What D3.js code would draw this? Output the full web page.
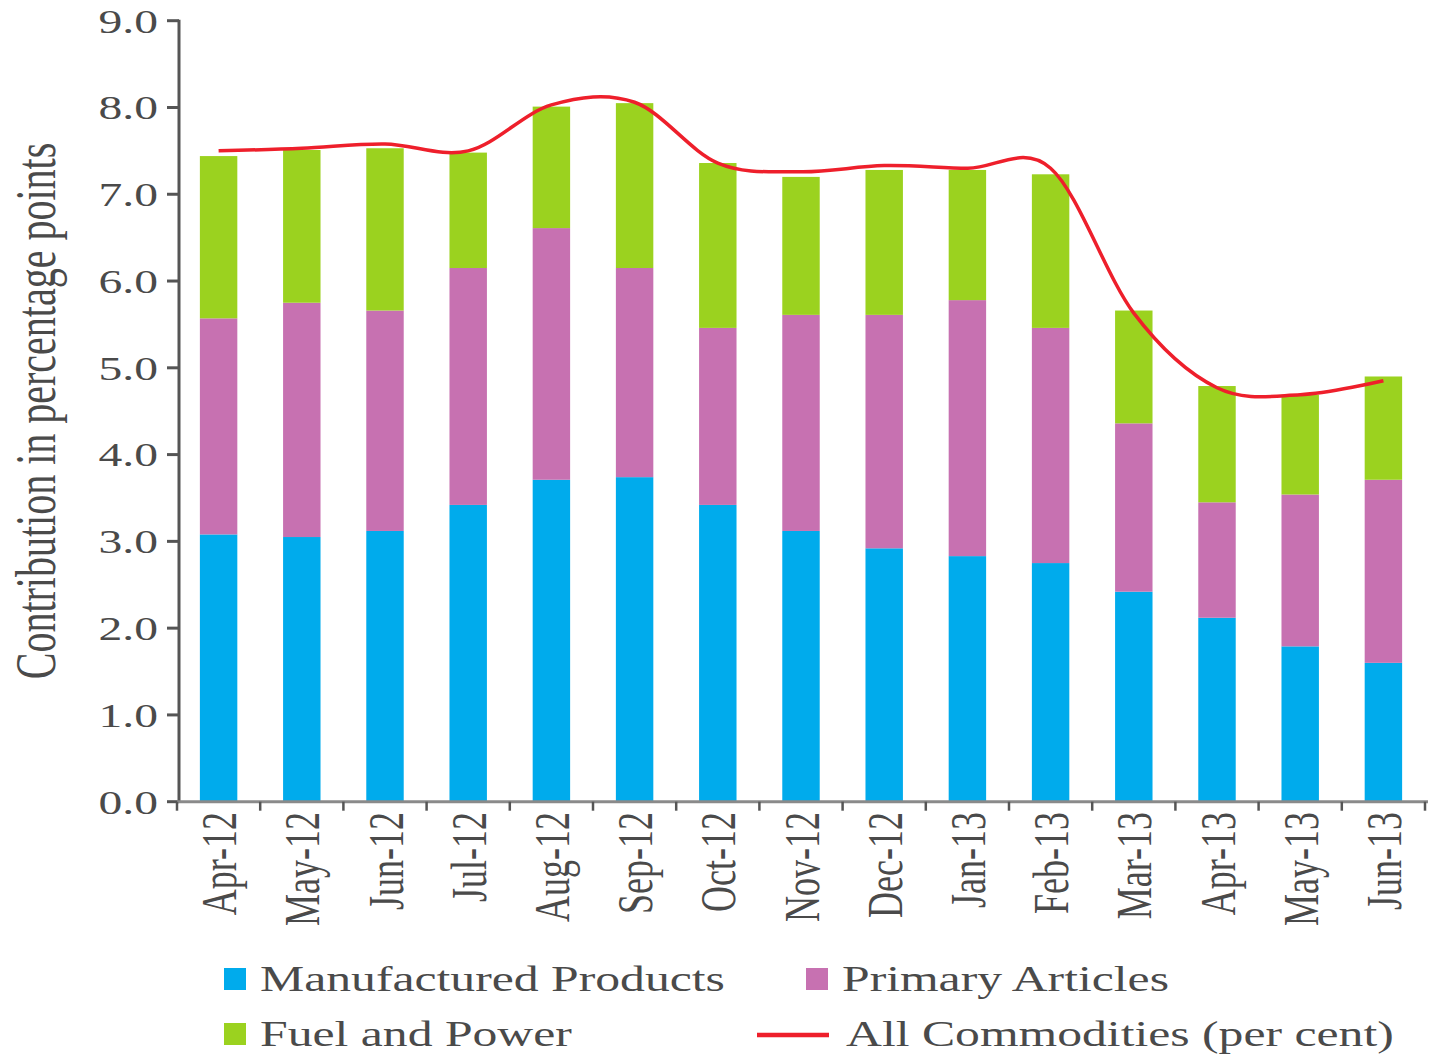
<!DOCTYPE html>
<html>
<head>
<meta charset="utf-8">
<script src="https://cdnjs.cloudflare.com/ajax/libs/d3/7.8.5/d3.min.js"></script>
<style>
    html, body { margin: 0; padding: 0; background: #fff; }
    svg { display: block; }
    text { font-family: "Liberation Serif", "DejaVu Serif", serif; fill: #4a4a4a; }
</style>
</head>
<body>
<div id="chart"></div>
<script>
// ── Data ──────────────────────────────────────────────────────────────────────
const months = ["Apr-12", "May-12", "Jun-12", "Jul-12", "Aug-12", "Sep-12", "Oct-12", "Nov-12",
                "Dec-12", "Jan-13", "Feb-13", "Mar-13", "Apr-13", "May-13", "Jun-13"];
const manufactured = [3.08, 3.05, 3.12, 3.42, 3.71, 3.74, 3.42, 3.12, 2.92, 2.83, 2.75, 2.42, 2.12, 1.79, 1.60];
const primary      = [2.49, 2.70, 2.54, 2.73, 2.90, 2.41, 2.04, 2.49, 2.69, 2.95, 2.71, 1.94, 1.33, 1.75, 2.11];
const fuel         = [1.87, 1.76, 1.87, 1.33, 1.40, 1.90, 1.90, 1.59, 1.67, 1.50, 1.77, 1.30, 1.34, 1.15, 1.19];
const allCommodities = [7.50, 7.53, 7.58, 7.50, 8.03, 8.06, 7.36, 7.26, 7.33, 7.30, 7.30, 5.63, 4.77, 4.69, 4.85];
const yTicks = [0, 1, 2, 3, 4, 5, 6, 7, 8, 9];

const seriesKeys = ["manufactured", "primary", "fuel"];
const seriesNames = { manufactured: "Manufactured Products", primary: "Primary Articles", fuel: "Fuel and Power" };
const colors = { manufactured: "#00abec", primary: "#c771b1", fuel: "#9bd21f", line: "#ee1f2b" };

// the source picture is stretched sideways, so every text is widened the same way
const STRETCH = 1.4;

const W = 1431, H = 1057;
const svg = d3.select("#chart").append("svg").attr("width", W).attr("height", H);

const x = d3.scaleBand().domain(months).range([177, 1425]).paddingInner(0.55).paddingOuter(0.275);
const y = d3.scaleLinear().domain([0, 9]).range([801.7, 20.7]);

function stretchedText(g, tx, ty, str, size, opts = {}) {
    return g.append("text")
        .attr("transform", `translate(${tx},${ty}) scale(${STRETCH},1)` + (opts.rotate ? " rotate(-90)" : ""))
        .attr("font-size", size)
        .attr("text-anchor", opts.anchor || "start")
        .attr("dy", opts.dy || "0.35em")
        .text(str);
}

// ── Stacked bars ──────────────────────────────────────────────────────────────
const table = months.map((m, i) => ({ month: m, manufactured: manufactured[i], primary: primary[i], fuel: fuel[i] }));
const stacked = d3.stack().keys(seriesKeys)(table);

svg.append("g").selectAll("g")
    .data(stacked)
    .join("g")
    .attr("fill", d => colors[d.key])
    .selectAll("rect")
    .data(d => d)
    .join("rect")
    .attr("x", d => x(d.data.month))
    .attr("width", x.bandwidth())
    .attr("y", d => y(d[1]))
    .attr("height", d => y(d[0]) - y(d[1]));

// ── Axes ──────────────────────────────────────────────────────────────────────
const axisY = svg.append("g");
axisY.append("line")
    .attr("x1", 179).attr("x2", 179).attr("y1", y(9) - 1).attr("y2", y(0))
    .attr("stroke", "#555").attr("stroke-width", 3);
axisY.selectAll(".ytick")
    .data(yTicks)
    .join("line")
    .attr("class", "ytick")
    .attr("x1", 167).attr("x2", 179)
    .attr("y1", d => y(d)).attr("y2", d => y(d))
    .attr("stroke", "#555").attr("stroke-width", 3);
yTicks.forEach(v => stretchedText(axisY, 158, y(v), d3.format(".1f")(v), 34, { anchor: "end" }));

const axisX = svg.append("g");
axisX.append("line")
    .attr("x1", 177).attr("x2", 1428).attr("y1", y(0)).attr("y2", y(0))
    .attr("stroke", "#8a8a8a").attr("stroke-width", 3);
// ticks sit on the category boundaries
const bounds = months.map(m => x(m) - x.step() * x.paddingInner() / 2);
bounds.push(x.range()[1]);
axisX.selectAll(".xtick")
    .data(bounds)
    .join("line")
    .attr("class", "xtick")
    .attr("x1", d => d).attr("x2", d => d)
    .attr("y1", y(0)).attr("y2", y(0) + 9)
    .attr("stroke", "#555").attr("stroke-width", 2.5);
months.forEach(m => stretchedText(axisX, x(m) + x.bandwidth() / 2, 812, m, 36, { anchor: "end", rotate: true }));

stretchedText(svg, 35, 411, "Contribution in percentage points", 40, { anchor: "middle", rotate: true });

// ── All commodities line ──────────────────────────────────────────────────────
const line = d3.line()
    .x((d, i) => x(months[i]) + x.bandwidth() / 2)
    .y(d => y(d))
    .curve(d3.curveCardinal.tension(0));

svg.append("path")
    .datum(allCommodities)
    .attr("d", line)
    .attr("fill", "none")
    .attr("stroke", colors.line)
    .attr("stroke-width", 3.5);

// ── Legend ────────────────────────────────────────────────────────────────────
const legend = svg.append("g");
const legendItems = [
    { key: "manufactured", x: 224, y: 979 },
    { key: "primary", x: 806, y: 979 },
    { key: "fuel", x: 224, y: 1034 }
];
legendItems.forEach(it => {
    legend.append("rect")
        .attr("x", it.x).attr("y", it.y - 11).attr("width", 22).attr("height", 22)
        .attr("fill", colors[it.key]);
    stretchedText(legend, it.x + 36, it.y, seriesNames[it.key], 35.5);
});
legend.append("line")
    .attr("x1", 757).attr("x2", 829).attr("y1", 1035).attr("y2", 1035)
    .attr("stroke", colors.line).attr("stroke-width", 4.5);
stretchedText(legend, 846, 1034, "All Commodities (per cent)", 35.5);
</script>
</body>
</html>
